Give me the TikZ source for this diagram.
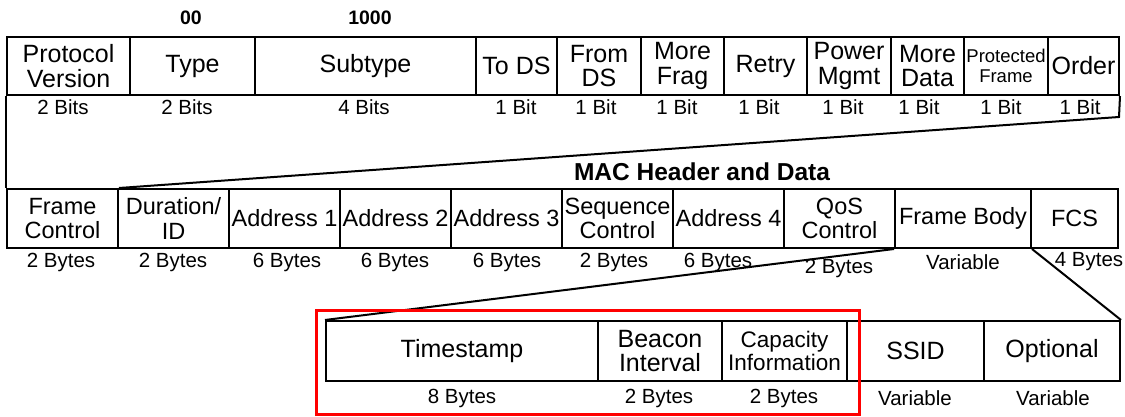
\documentclass[tikz,border=0pt]{standalone}
\usepackage{fontspec}
\setmainfont{Liberation Sans}
\newcommand\mkfield[7][]{%
  \pgfmathsetmacro\mfX{(#3+#4)/2}\pgfmathsetmacro\mfY{(#5+#6)/2}%
  \pgfmathsetmacro\mfW{#4-#3}\pgfmathsetmacro\mfH{#6-#5}%
  \node[fld, minimum width=\mfW pt, minimum height=\mfH pt, #1] (#2) at (\mfX,\mfY) {#7};}
\begin{document}
\begin{tikzpicture}[x=1pt,y=-1pt,
  fld/.style={draw, line width=2pt, inner sep=0pt, align=center, font=\fontsize{23.5}{24.5}\selectfont},
  topf/.style={font=\fontsize{25}{24.5}\selectfont},
  smallf/.style={font=\fontsize{18.5}{20}\selectfont},
  capf/.style={font=\fontsize{22.5}{22.5}\selectfont},
  lbl/.style={inner sep=0pt, font=\fontsize{20.5}{22}\selectfont},
  hdr/.style={inner sep=0pt, font=\fontsize{19.5}{22}\selectfont\bfseries},
  conn/.style={line width=2pt},
  redbox/.style={draw=red, line width=3pt}]
\useasboundingbox (0,0) rectangle (1125,417);
% header values
\node[hdr] (t00) at (191,18) {00};
\node[hdr] (t1000) at (370,18) {1000};
% top row
\mkfield[topf]{pv}{7}{130}{37}{95}{Protocol\\Version}
\mkfield[topf]{type}{130}{255}{37}{95}{Type}
\mkfield[topf]{sub}{255}{476}{37}{95}{Subtype}
\mkfield[topf]{tods}{476}{557}{37}{95}{To DS}
\mkfield[topf]{fromds}{557}{641}{37}{95}{From\\DS}
\mkfield[topf]{mfrag}{641}{724}{37}{95}{More\\Frag}
\mkfield[topf]{retry}{724}{807}{37}{95}{Retry}
\mkfield[topf]{pwr}{807}{891}{37}{95}{Power\\Mgmt}
\mkfield[topf]{mdata}{891}{964}{37}{95}{More\\Data}
\mkfield[smallf]{prot}{964}{1048}{37}{95}{Protected\\Frame}
\mkfield[topf]{order}{1048}{1119}{37}{95}{Order}
\node[lbl] (pvb) at (63,107) {2 Bits};
\node[lbl] (typeb) at (187,107) {2 Bits};
\node[lbl] (subb) at (364,107) {4 Bits};
\node[lbl] (todsb) at (516,107) {1 Bit};
\node[lbl] (fromdsb) at (596,107) {1 Bit};
\node[lbl] (mfragb) at (677,107) {1 Bit};
\node[lbl] (retryb) at (759,107) {1 Bit};
\node[lbl] (pwrb) at (843,107) {1 Bit};
\node[lbl] (mdatab) at (919,107) {1 Bit};
\node[lbl] (protb) at (1001,107) {1 Bit};
\node[lbl] (orderb) at (1080,107) {1 Bit};
% middle row
\node[inner sep=0pt, font=\fontsize{24.5}{26}\selectfont\bfseries] (mac) at (702,172) {MAC Header and Data};
\mkfield{fc}{7}{118}{189}{248}{Frame\\Control}
\mkfield{dur}{118}{229}{189}{248}{Duration/\\ID}
\mkfield{a1}{229}{340}{189}{248}{Address 1}
\mkfield{a2}{340}{451}{189}{248}{Address 2}
\mkfield{a3}{451}{562}{189}{248}{Address 3}
\mkfield{seq}{562}{673}{189}{248}{Sequence\\Control}
\mkfield{a4}{673}{784}{189}{248}{Address 4}
\mkfield{qos}{784}{895}{189}{248}{QoS\\Control}
\mkfield{body}{895}{1031}{189}{248}{Frame Body}
\mkfield{fcs}{1031}{1118}{189}{248}{FCS}
\node[lbl] (fcb) at (61,262) {2 Bytes};
\node[lbl] (durb) at (173,262) {2 Bytes};
\node[lbl] (a1b) at (287,262) {6 Bytes};
\node[lbl] (a2b) at (395,262) {6 Bytes};
\node[lbl] (a3b) at (507,262) {6 Bytes};
\node[lbl] (seqb) at (614,262) {2 Bytes};
\node[lbl] (a4b) at (718,262) {6 Bytes};
\node[lbl] (qosb) at (839,268) {2 Bytes};
\node[lbl] (bodyb) at (963,262) {Variable};
\node[lbl] (fcsb) at (1089,262) {4 Bytes};
% bottom row
\mkfield[topf]{ts}{326}{598}{321}{381}{Timestamp}
\mkfield[topf]{bi}{598}{722}{321}{381}{Beacon\\Interval}
\mkfield[capf]{ci}{722}{847}{321}{381}{Capacity\\Information}
\mkfield[topf]{ssid}{847}{984}{321}{381}{SSID}
\mkfield[topf]{opt}{984}{1120}{321}{381}{Optional}
\node[lbl] (tsb) at (462,398) {8 Bytes};
\node[lbl] (bib) at (659,398) {2 Bytes};
\node[lbl] (cib) at (784,398) {2 Bytes};
\node[lbl] (ssidb) at (915,398) {Variable};
\node[lbl] (optb) at (1053,398) {Variable};
% connectors
\coordinate (rc) at (1119,117);
\draw[conn] (pv.south west) -- (fc.north west);
\draw[conn] (order.south east) -- (rc) -- (fc.north east);
\draw[conn] (body.south west) -- (ts.north west);
\draw[conn] (body.south east) -- (opt.north east);
% highlight
\draw[redbox] (316,310) rectangle (859,414);
\end{tikzpicture}
\end{document}
